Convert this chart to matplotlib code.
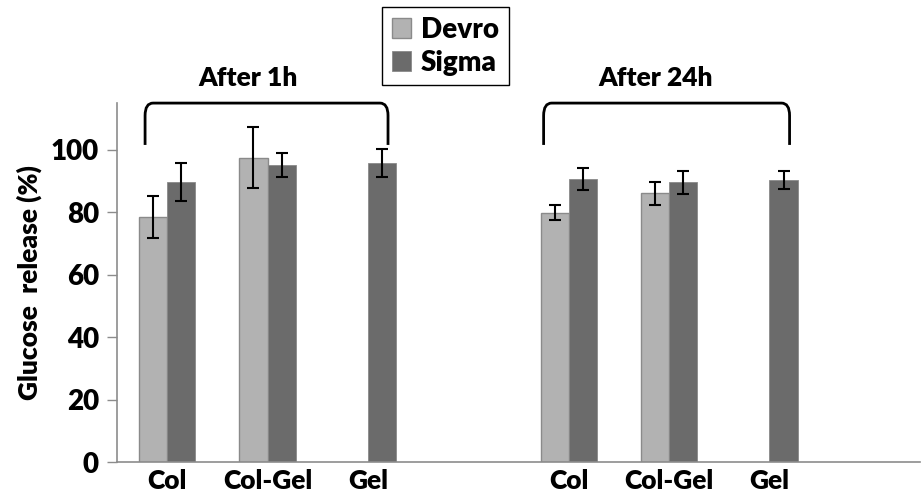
import numpy as np
import matplotlib
matplotlib.use("Agg")
import matplotlib.pyplot as plt
from matplotlib.path import Path
from matplotlib.patches import PathPatch

plt.rcParams['font.family'] = ['Lato', 'DejaVu Sans']
plt.rcParams['font.weight'] = 'heavy'

# slots: 1h (Col, Col-Gel, Gel), empty, 24h (Col, Col-Gel, Gel), empty
categories = ['Col', 'Col-Gel', 'Gel', '', 'Col', 'Col-Gel', 'Gel', '']
devro = [78.6, 97.5, np.nan, np.nan, 79.9, 86.1, np.nan, np.nan]
devro_err = [6.8, 9.7, 0, 0, 2.5, 3.6, 0, 0]
sigma = [89.8, 95.1, 95.7, np.nan, 90.6, 89.6, 90.4, np.nan]
sigma_err = [6.1, 3.8, 4.5, 0, 3.5, 3.8, 3.0, 0]
groups = ['After 1h', 'After 24h']
group_span = [(-0.22, 2.2), (3.75, 6.2)]
group_label_x = [0.81, 4.87]

x = np.arange(len(categories))
w = 0.28

fig = plt.figure(figsize=(9.21, 4.98), dpi=100)
ax = fig.add_axes([0.127, 0.072, 0.872, 0.721])

ax.bar(x - w/2, devro, w, color='#b2b2b2', edgecolor='#8a8a8a', linewidth=1, label='Devro')
ax.bar(x + w/2, sigma, w, color='#6b6b6b', edgecolor='#8a8a8a', linewidth=0.6, label='Sigma')
m = ~np.isnan(devro)
ax.errorbar((x - w/2)[m], np.array(devro)[m], yerr=np.array(devro_err)[m], fmt='none',
            ecolor='black', elinewidth=1.5, capsize=4.5, capthick=1.5)
m = ~np.isnan(sigma)
ax.errorbar((x + w/2)[m], np.array(sigma)[m], yerr=np.array(sigma_err)[m], fmt='none',
            ecolor='black', elinewidth=1.5, capsize=4.5, capthick=1.5)

ax.set_xlim(-0.5, 7.5)
ax.set_ylim(0, 115)
ax.set_yticks([0, 20, 40, 60, 80, 100])
ax.set_xticks(x[[0, 1, 2, 4, 5, 6]])
ax.set_xticklabels([categories[i] for i in [0, 1, 2, 4, 5, 6]])
ax.tick_params(axis='x', length=0, labelsize=19, pad=5)
ax.tick_params(axis='y', length=7, width=1, color='#8c8c8c', labelsize=20, pad=6)
ax.set_ylabel('Glucose  release (%)', fontsize=19, fontweight='heavy', labelpad=6)
for s in ['top', 'right']:
    ax.spines[s].set_visible(False)
for s in ['left', 'bottom']:
    ax.spines[s].set_color('#8c8c8c')
    ax.spines[s].set_linewidth(1.2)

# brackets over the two time points
ytop, ylow = 115, 101.6
for (x0, x1), lx, name in zip(group_span, group_label_x, groups):
    rx, ry = 0.08, 4
    verts = [(x0, ylow), (x0, ytop - ry), (x0, ytop), (x0 + rx, ytop),
             (x1 - rx, ytop), (x1, ytop), (x1, ytop - ry), (x1, ylow)]
    codes = [Path.MOVETO, Path.LINETO, Path.CURVE3, Path.CURVE3,
             Path.LINETO, Path.CURVE3, Path.CURVE3, Path.LINETO]
    ax.add_patch(PathPatch(Path(verts, codes), fill=False, lw=2, color='black', clip_on=False))
    ax.text(lx, 123, name, ha='center', va='center', fontsize=19, fontweight='heavy')

fig.legend(loc='upper left', bbox_to_anchor=(382/921, 1 - 7/498), fontsize=20,
           frameon=True, fancybox=False, edgecolor='black', framealpha=1,
           handlelength=0.7, handleheight=0.7, handletextpad=0.35,
           borderpad=0.35, labelspacing=0.25, borderaxespad=0)

fig.savefig('out.png', dpi=100)
